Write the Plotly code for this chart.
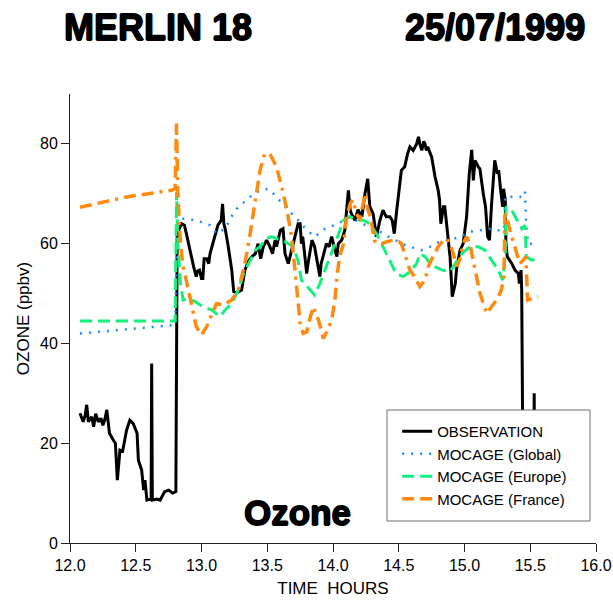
import plotly.graph_objects as go

# Flight MERLIN 18, 25/07/1999 - ozone along the flight track (ppbv) vs time (hours)
obs_time = [12.076, 12.09, 12.10, 12.115, 12.127, 12.14, 12.155, 12.165, 12.18, 12.195,
            12.215, 12.235, 12.25, 12.265, 12.28, 12.30, 12.33, 12.345, 12.36, 12.38,
            12.40, 12.43, 12.455, 12.48, 12.51, 12.52, 12.545, 12.56, 12.57, 12.585,
            12.61, 12.617, 12.621, 12.626, 12.66, 12.685, 12.72, 12.75, 12.78, 12.805,
            12.815, 12.83, 12.85, 12.87, 12.885, 12.90, 12.925, 12.94, 12.96, 12.97,
            12.985, 13.00, 13.01, 13.02, 13.04, 13.055, 13.065, 13.09, 13.10, 13.125,
            13.15, 13.16, 13.17, 13.18, 13.20, 13.23, 13.245, 13.27, 13.305, 13.33,
            13.355, 13.38, 13.41, 13.43, 13.45, 13.47, 13.495, 13.52, 13.54, 13.56,
            13.57, 13.60, 13.62, 13.635, 13.66, 13.685, 13.71, 13.735, 13.75, 13.76,
            13.77, 13.785, 13.80, 13.81, 13.825, 13.84, 13.86, 13.87, 13.90, 13.91,
            13.93, 13.95, 13.97, 13.99, 14.015, 14.03, 14.04, 14.066, 14.09, 14.117,
            14.13, 14.14, 14.167, 14.19, 14.22, 14.243, 14.264, 14.28, 14.305, 14.33,
            14.357, 14.38, 14.405, 14.433, 14.45, 14.466, 14.485, 14.50, 14.52, 14.545,
            14.567, 14.585, 14.61, 14.636, 14.65, 14.66, 14.675, 14.69, 14.70, 14.71,
            14.72, 14.75, 14.776, 14.80, 14.81, 14.82, 14.84, 14.85, 14.864, 14.89,
            14.907, 14.93, 14.94, 14.966, 14.99, 15.016, 15.036, 15.055, 15.067, 15.08,
            15.105, 15.117, 15.143, 15.16, 15.176, 15.19, 15.206, 15.22, 15.23, 15.25,
            15.26, 15.275, 15.29, 15.297, 15.31, 15.315, 15.325, 15.36, 15.384, 15.41,
            15.417, 15.43, 15.435, 15.447, 15.525, 15.53, 15.535]
obs_o3 = [26.0, 25.0, 24.3, 25.5, 27.7, 24.3, 25.0, 25.3, 23.3, 25.9,
          24.3, 25.0, 23.6, 24.8, 26.7, 22.0, 20.6, 20.0, 12.6, 18.6,
          18.4, 22.6, 24.6, 24.0, 22.0, 16.6, 14.6, 10.6, 12.6, 8.6,
          8.8, 8.6, 36.0, 8.6, 8.8, 8.6, 10.3, 10.6, 10.0, 10.3,
          61.4, 63.0, 64.0, 63.7, 62.0, 60.0, 57.0, 55.4, 53.4, 54.5,
          54.7, 53.0, 53.0, 57.0, 57.0, 56.0, 58.0, 60.4, 61.7, 63.7,
          64.7, 68.0, 64.0, 63.0, 60.0, 54.7, 50.4, 50.2, 50.7, 54.7,
          56.4, 57.3, 58.0, 60.0, 57.0, 59.4, 60.7, 59.4, 58.0, 60.7,
          59.4, 62.7, 63.0, 58.0, 56.0, 58.7, 61.4, 64.0, 64.0, 60.0,
          61.4, 57.0, 54.0, 56.0, 58.7, 60.7, 59.4, 58.0, 53.4, 56.0,
          58.0, 60.0, 59.4, 61.4, 58.7, 57.4, 60.0, 60.7, 62.7, 70.7,
          66.8, 66.0, 64.7, 66.8, 65.4, 70.0, 73.0, 67.4, 66.0, 61.4,
          64.7, 66.7, 65.4, 65.4, 64.7, 62.0, 66.8, 70.0, 74.7, 75.4,
          78.0, 79.4, 78.7, 80.0, 81.4, 80.0, 78.7, 80.5, 80.0, 78.7,
          79.4, 77.4, 73.4, 70.7, 68.8, 64.0, 67.4, 67.4, 63.4, 57.4,
          49.4, 52.0, 55.0, 58.7, 60.0, 65.4, 74.0, 78.8, 72.7, 76.7,
          75.4, 75.0, 70.0, 67.4, 61.4, 60.7, 68.0, 74.0, 76.7, 74.0,
          74.7, 70.7, 67.4, 71.0, 68.8, 60.0, 57.4, 56.0, 54.7, 54.0,
          52.0, 54.7, 50.7, 5.0, 5.0, 30.0, 5.0]

glob_time = [12.076, 12.80, 12.815, 12.86, 12.96, 13.065, 13.115, 13.18, 13.255, 13.37,
             13.445, 13.51, 13.57, 13.66, 13.735, 13.79, 13.86, 13.94, 14.04, 14.12,
             14.22, 14.32, 14.42, 14.55, 14.67, 14.74, 14.81, 14.89, 14.966, 15.04,
             15.12, 15.18, 15.245, 15.30, 15.31, 15.40, 15.447, 15.46, 15.47, 15.485,
             15.55]
glob_o3 = [42.0, 43.7, 65.0, 65.0, 64.7, 63.7, 62.0, 63.0, 66.7, 69.4,
           70.7, 71.0, 69.4, 66.7, 64.7, 63.0, 61.4, 63.0, 64.0, 65.4,
           64.0, 63.0, 61.4, 59.7, 58.7, 59.4, 60.4, 60.7, 61.4, 62.4,
           62.7, 63.0, 62.7, 62.7, 69.4, 69.4, 69.4, 70.4, 63.4, 60.0,
           60.0]

eur_time = [12.076, 12.80, 12.81, 12.82, 12.84, 12.86, 12.90, 12.95, 13.01, 13.08,
            13.14, 13.18, 13.23, 13.28, 13.32, 13.37, 13.41, 13.445, 13.495, 13.53,
            13.57, 13.635, 13.70, 13.735, 13.76, 13.825, 13.86, 13.90, 13.95, 13.99,
            14.03, 14.08, 14.13, 14.18, 14.23, 14.28, 14.33, 14.38, 14.43, 14.48,
            14.535, 14.585, 14.636, 14.66, 14.70, 14.74, 14.776, 14.83, 14.89, 14.93,
            14.98, 15.04, 15.105, 15.155, 15.206, 15.257, 15.29, 15.31, 15.316, 15.36,
            15.40, 15.435, 15.46, 15.47, 15.51, 15.56]
eur_o3 = [44.5, 44.5, 70.4, 60.0, 52.0, 48.7, 49.0, 48.4, 47.4, 46.7,
          45.4, 46.7, 48.0, 50.7, 54.0, 56.7, 58.7, 59.4, 61.0, 61.4,
          61.0, 60.4, 59.4, 56.5, 52.7, 50.7, 49.7, 52.0, 55.4, 58.0,
          61.0, 64.7, 65.4, 64.7, 64.7, 64.0, 62.0, 59.4, 56.7, 54.0,
          53.4, 54.4, 56.0, 58.0, 57.4, 56.0, 55.4, 54.7, 54.4, 56.0,
          58.0, 59.4, 59.4, 58.7, 56.7, 54.7, 52.7, 57.4, 67.4, 66.7,
          64.7, 63.0, 63.7, 57.4, 56.7, 57.0]

fra_time = [12.076, 12.44, 12.77, 12.80, 12.81, 12.82, 12.84, 12.86, 12.89, 12.91,
            12.94, 12.96, 13.00, 13.04, 13.08, 13.115, 13.166, 13.23, 13.28, 13.33,
            13.37, 13.41, 13.445, 13.48, 13.52, 13.57, 13.61, 13.65, 13.685, 13.71,
            13.735, 13.75, 13.774, 13.80, 13.825, 13.85, 13.89, 13.926, 13.96, 13.99,
            14.015, 14.03, 14.05, 14.08, 14.10, 14.13, 14.15, 14.18, 14.205, 14.23,
            14.243, 14.26, 14.29, 14.314, 14.33, 14.37, 14.41, 14.46, 14.50, 14.52,
            14.55, 14.585, 14.62, 14.66, 14.70, 14.725, 14.76, 14.80, 14.84, 14.864,
            14.89, 14.915, 14.94, 14.966, 14.99, 15.016, 15.04, 15.067, 15.09, 15.118,
            15.143, 15.17, 15.206, 15.245, 15.28, 15.30, 15.308, 15.32, 15.346, 15.384,
            15.42, 15.447, 15.467, 15.48, 15.51, 15.56]
fra_o3 = [67.3, 69.4, 70.7, 71.0, 84.1, 70.0, 60.0, 55.4, 52.0, 49.4,
          46.0, 43.4, 41.7, 43.4, 46.0, 48.0, 47.7, 48.7, 50.7, 56.0,
          62.0, 69.4, 74.7, 78.0, 78.0, 75.4, 71.4, 66.7, 61.4, 55.0,
          48.0, 44.0, 42.0, 42.3, 45.0, 47.4, 44.7, 41.0, 42.7, 44.7,
          48.7, 53.4, 57.4, 60.0, 64.7, 68.0, 68.8, 66.0, 64.7, 68.0,
          70.0, 67.4, 64.7, 60.7, 60.0, 60.0, 60.4, 60.7, 60.4, 60.0,
          57.4, 54.7, 53.4, 51.4, 52.7, 55.4, 57.4, 59.4, 60.7, 61.0,
          60.0, 58.0, 55.4, 57.0, 60.0, 61.4, 60.0, 56.7, 53.4, 50.0,
          48.0, 46.0, 47.4, 48.7, 50.7, 53.4, 66.0, 65.4, 62.7, 59.4,
          56.0, 56.7, 57.4, 48.7, 49.0, 49.4]

x_ticks = [12.0, 12.5, 13.0, 13.5, 14.0, 14.5, 15.0, 15.5, 16.0]
y_ticks = [0, 20, 40, 60, 80]

FONT = "Liberation Sans, Arial, sans-serif"
HEAVY = "0.8px 0 0 #000, -0.8px 0 0 #000, 0 0.8px 0 #000, 0 -0.8px 0 #000"

fig = go.Figure()
fig.add_trace(go.Scatter(x=obs_time, y=obs_o3, mode="lines", name="OBSERVATION",
                         line=dict(color="#000000", width=3)))
fig.add_trace(go.Scatter(x=glob_time, y=glob_o3, mode="lines", name="MOCAGE (Global)",
                         line=dict(color="#1E8CFF", width=2.5, dash="2px,7px")))
fig.add_trace(go.Scatter(x=eur_time, y=eur_o3, mode="lines", name="MOCAGE (Europe)",
                         line=dict(color="#14F07C", width=3, dash="12px,6px")))
fig.add_trace(go.Scatter(x=fra_time, y=fra_o3, mode="lines", name="MOCAGE (France)",
                         line=dict(color="#FF8A0E", width=3.5,
                                   dash="12px,6px,12px,6px,3px,6px")))

# white legend panel with grey frame, drawn over the traces
fig.add_shape(type="rect", xref="paper", yref="paper",
              x0=0.6027, x1=0.9886, y0=0.049, y1=0.2962,
              line=dict(color="#6e6e6e", width=1), fillcolor="white", layer="above")

fig.add_annotation(text="<b>MERLIN 18</b>", xref="paper", yref="paper",
                   x=0.1673, y=1.149, xanchor="center", yanchor="middle",
                   showarrow=False,
                   font=dict(family=FONT, size=36, color="black", shadow=HEAVY))
fig.add_annotation(text="<b>25/07/1999</b>", xref="paper", yref="paper",
                   x=0.808, y=1.149, xanchor="center", yanchor="middle",
                   showarrow=False,
                   font=dict(family=FONT, size=36, color="black", shadow=HEAVY))
fig.add_annotation(text="<b>Ozone</b>", xref="paper", yref="paper",
                   x=0.4316, y=0.069, xanchor="center", yanchor="middle",
                   showarrow=False,
                   font=dict(family=FONT, size=35, color="black", shadow=HEAVY))

fig.update_layout(
    width=613, height=612,
    margin=dict(l=70, r=17, t=94, b=69, autoexpand=False),
    paper_bgcolor="white", plot_bgcolor="white",
    font=dict(family=FONT, size=16, color="black"),
    showlegend=True,
    legend=dict(x=0.622, y=0.285, xanchor="left", yanchor="top",
                bgcolor="rgba(0,0,0,0)", borderwidth=0,
                font=dict(family=FONT, size=15, color="black"),
                tracegroupgap=0),
    xaxis=dict(range=[12.0, 16.0], tickvals=x_ticks,
               ticktext=[f"{v:.1f}" for v in x_ticks], automargin=False,
               showgrid=False, zeroline=False, showline=True, linecolor="#222",
               linewidth=1, ticks="outside", ticklen=8, tickcolor="#222",
               tickfont=dict(size=16),
               title=dict(text="TIME\u00a0 HOURS", font=dict(size=17), standoff=8)),
    yaxis=dict(range=[0, 90], tickvals=y_ticks, automargin=False,
               showgrid=False, zeroline=False, showline=True, linecolor="#222",
               linewidth=1, ticks="outside", ticklen=8, tickcolor="#222",
               tickfont=dict(size=16),
               title=dict(text="OZONE (ppbv)", font=dict(size=17), standoff=6)),
)

fig.write_html("out.html")
